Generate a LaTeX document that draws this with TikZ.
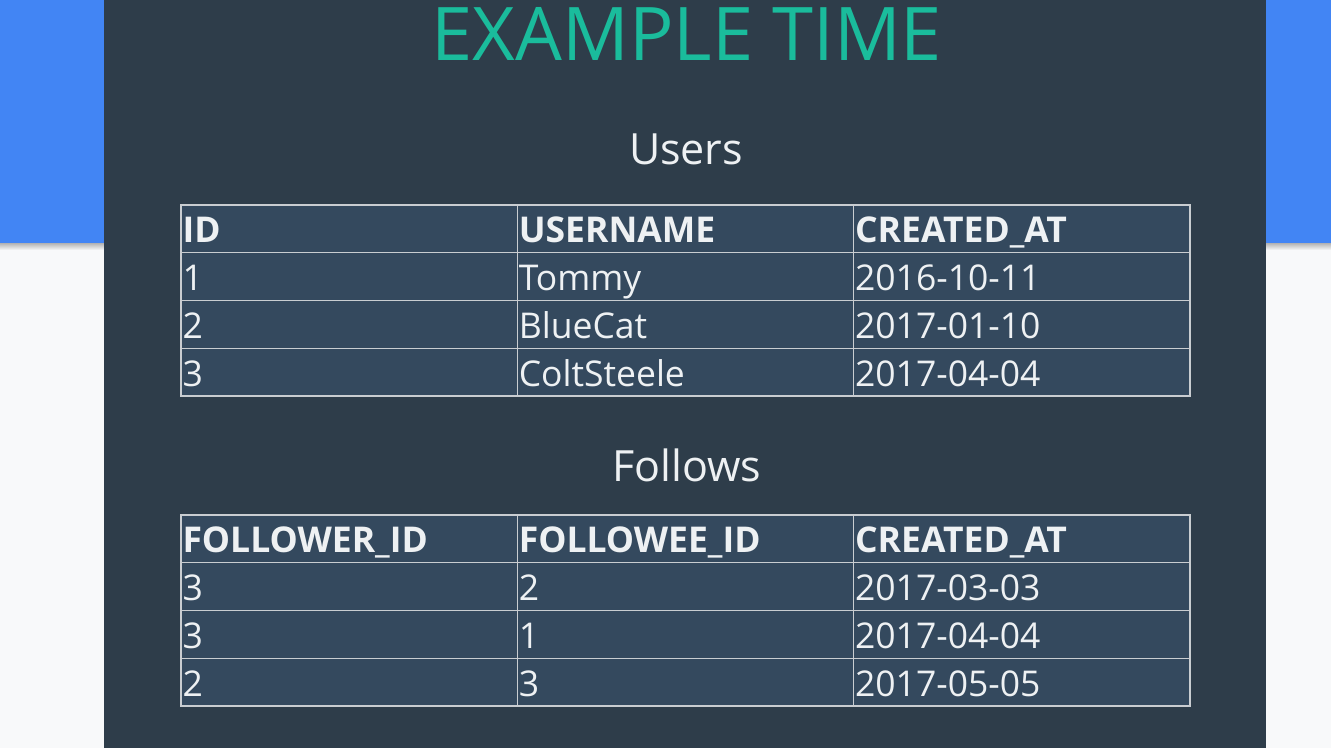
\documentclass[tikz,border=0pt]{standalone}
\usepackage{fontspec}
\setmainfont{Open Sans}
\usepackage{tikz}
\usetikzlibrary{positioning}
\definecolor{slidebg}{HTML}{2E3D4A}
\definecolor{cellbg}{HTML}{34495E}
\definecolor{gridline}{HTML}{C9CDD1}
\definecolor{teal}{HTML}{1ABC9C}
\definecolor{gblue}{HTML}{4285F4}
\definecolor{paper}{HTML}{F8F9FA}
\definecolor{celltext}{HTML}{EEF1F3}
\tikzstyle{cell} = [draw=gridline, line width=1.3pt, fill=cellbg, rectangle,
outer sep=0pt, inner xsep=1.5pt, inner ysep=0pt, text width=333.3pt,
text height=37.75pt, text depth=10pt, align=left, text=celltext,
font=\fontsize{35.5}{40}\selectfont]
\tikzstyle{head} = [cell, font=\fontsize{35.5}{40}\selectfont\bfseries]
\tikzstyle{caption} = [text=celltext, anchor=base, font=\fontsize{43}{48}\selectfont]

\begin{document}
\begin{tikzpicture}[x=1pt, y=-1pt, node distance=0pt]

% Background
\fill [paper] (0,0) rectangle (1331,748);
\shade [top color=gray!60, bottom color=paper] (0,243) rectangle (1331,250);
\fill [gblue] (0,0) rectangle (1331,243);
\fill [slidebg] (104,0) rectangle (1266,748);
\useasboundingbox (0,0) rectangle (1331,748);

% Title and captions
\node [text=teal, anchor=base, font=\fontsize{74}{80}\selectfont] (title) at (687,60) {EXAMPLE TIME};
\node [caption] (userscap) at (686,164) {Users};
\node [caption] (followscap) at (687,481) {Follows};

% Users table
\node [head, anchor=north west] (uid) at (181,205) {ID};
\node [head, right=of uid] (uname) {USERNAME};
\node [head, right=of uname] (ucreated) {CREATED\_AT};
\node [cell, below=of uid] (uidA) {1};
\node [cell, right=of uidA] (unameA) {Tommy};
\node [cell, right=of unameA] (ucreatedA) {2016-10-11};
\node [cell, below=of uidA] (uidB) {2};
\node [cell, right=of uidB] (unameB) {BlueCat};
\node [cell, right=of unameB] (ucreatedB) {2017-01-10};
\node [cell, below=of uidB] (uidC) {3};
\node [cell, right=of uidC] (unameC) {ColtSteele};
\node [cell, right=of unameC] (ucreatedC) {2017-04-04};

% Follows table
\node [head, anchor=north west] (fer) at (181,515) {FOLLOWER\_ID};
\node [head, right=of fer] (fee) {FOLLOWEE\_ID};
\node [head, right=of fee] (fcreated) {CREATED\_AT};
\node [cell, below=of fer] (ferA) {3};
\node [cell, right=of ferA] (feeA) {2};
\node [cell, right=of feeA] (fcreatedA) {2017-03-03};
\node [cell, below=of ferA] (ferB) {3};
\node [cell, right=of ferB] (feeB) {1};
\node [cell, right=of feeB] (fcreatedB) {2017-04-04};
\node [cell, below=of ferB] (ferC) {2};
\node [cell, right=of ferC] (feeC) {3};
\node [cell, right=of feeC] (fcreatedC) {2017-05-05};

\end{tikzpicture}
\end{document}
